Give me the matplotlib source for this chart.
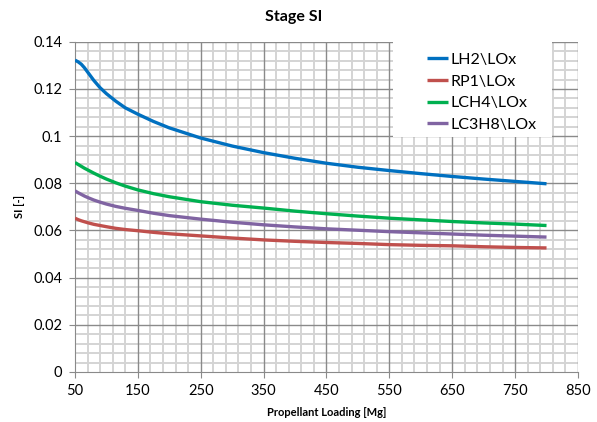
import numpy as np
import matplotlib
matplotlib.use("Agg")
import matplotlib.pyplot as plt
from matplotlib.ticker import FixedLocator, FuncFormatter
from matplotlib.patches import Rectangle

# ----------------------------
# Data
# ----------------------------
loading = [50, 55, 60, 65, 70, 80, 90, 100, 115, 130, 150, 175, 200,
           250, 300, 350, 400, 450, 500, 550, 600, 650, 700, 750, 800]

si_lh2 = [0.1322, 0.1315, 0.1305, 0.1290, 0.1272, 0.1236, 0.1205, 0.1180, 0.1148, 0.1120, 0.1093, 0.1062, 0.1035,
          0.0992, 0.0958, 0.0930, 0.0906, 0.0885, 0.0868, 0.0854, 0.0841, 0.0829, 0.0818, 0.0808, 0.0798]
si_rp1 = [0.0652, 0.0646, 0.0641, 0.0637, 0.0633, 0.0626, 0.0621, 0.0616, 0.0609, 0.0604, 0.0599, 0.0592, 0.0586,
          0.0577, 0.0568, 0.0560, 0.0554, 0.0549, 0.0545, 0.0540, 0.0537, 0.0535, 0.0531, 0.0528, 0.0526]
si_lch4 = [0.0888, 0.0880, 0.0872, 0.0864, 0.0857, 0.0843, 0.0830, 0.0818, 0.0802, 0.0788, 0.0772, 0.0756, 0.0743,
           0.0722, 0.0707, 0.0695, 0.0682, 0.0671, 0.0661, 0.0652, 0.0645, 0.0638, 0.0632, 0.0627, 0.0621]
si_lc3h8 = [0.0768, 0.0760, 0.0753, 0.0746, 0.0740, 0.0729, 0.0720, 0.0712, 0.0702, 0.0694, 0.0685, 0.0673, 0.0663,
            0.0648, 0.0635, 0.0624, 0.0615, 0.0607, 0.0601, 0.0595, 0.0590, 0.0585, 0.0580, 0.0576, 0.0572]

series_names = ["LH2\\LOx", "RP1\\LOx", "LCH4\\LOx", "LC3H8\\LOx"]
series_colors = ["#0070C0", "#C0504D", "#00B050", "#8064A2"]

plt.rcParams["font.family"] = ["Lato", "DejaVu Sans"]

# ----------------------------
# Plot
# ----------------------------
fig = plt.figure(figsize=(5.97, 4.22), dpi=100)
ax = fig.add_axes([0.1256, 0.1185, 0.8425, 0.7825])

for vals, name, col in zip([si_lh2, si_rp1, si_lch4, si_lc3h8], series_names, series_colors):
    ax.plot(loading, vals, color=col, lw=2.4, label=name, solid_capstyle="butt", zorder=3)

ax.set_xlim(50, 850)
ax.set_ylim(0, 0.14)

x_major = np.arange(50, 851, 100)
x_minor = [v for v in np.arange(50, 851, 20) if (v - 50) % 100 != 0]
y_major = np.linspace(0, 0.14, 8)
y_minor = [v for i, v in enumerate(np.linspace(0, 0.14, 36)) if i % 5 != 0]

ax.xaxis.set_major_locator(FixedLocator(x_major))
ax.xaxis.set_minor_locator(FixedLocator(x_minor))
ax.yaxis.set_major_locator(FixedLocator(y_major))
ax.yaxis.set_minor_locator(FixedLocator(y_minor))
ax.yaxis.set_major_formatter(FuncFormatter(lambda v, p: "0" if abs(v) < 1e-9 else f"{v:.2f}".rstrip("0")))

# minor grid from the axes, major grid drawn on top so it stays continuous
ax.grid(which="minor", color="#d4d4d4", lw=1.4)
ax.set_axisbelow(True)
ax.vlines(x_major[1:], 0, 0.14, color="#8a8a8a", lw=1.0, zorder=1)
ax.hlines(y_major[1:], 50, 850, color="#8a8a8a", lw=1.0, zorder=1)

for side in ["top", "right"]:
    ax.spines[side].set_visible(False)
for side in ["left", "bottom"]:
    ax.spines[side].set_color("#8a8a8a")

ax.tick_params(which="major", length=4, color="#8a8a8a", labelsize=10.5, pad=5)
ax.tick_params(which="minor", length=0)

fig.text(0.491, 0.96, "Stage SI", fontsize=11.5, fontweight="bold", ha="center", va="center")
ax.set_xlabel("Propellant Loading [Mg]", fontsize=8, fontweight="bold", labelpad=6)
ax.set_ylabel("SI [-]", fontsize=8, fontweight="bold", labelpad=6)

# legend: white box like Excel's, entries set inside it
ax.add_patch(Rectangle((0.632, 0.7115), 0.316, 0.2875, transform=ax.transAxes,
                       facecolor="white", edgecolor="none", zorder=4))
leg = ax.legend(loc="upper left", bbox_to_anchor=(0.700, 0.967), frameon=False,
                fontsize=11.5, handlelength=1.31, handletextpad=0.15, labelspacing=0.47,
                borderpad=0.0, borderaxespad=0.0)
leg.set_zorder(5)

fig.savefig("out.png", dpi=100)
